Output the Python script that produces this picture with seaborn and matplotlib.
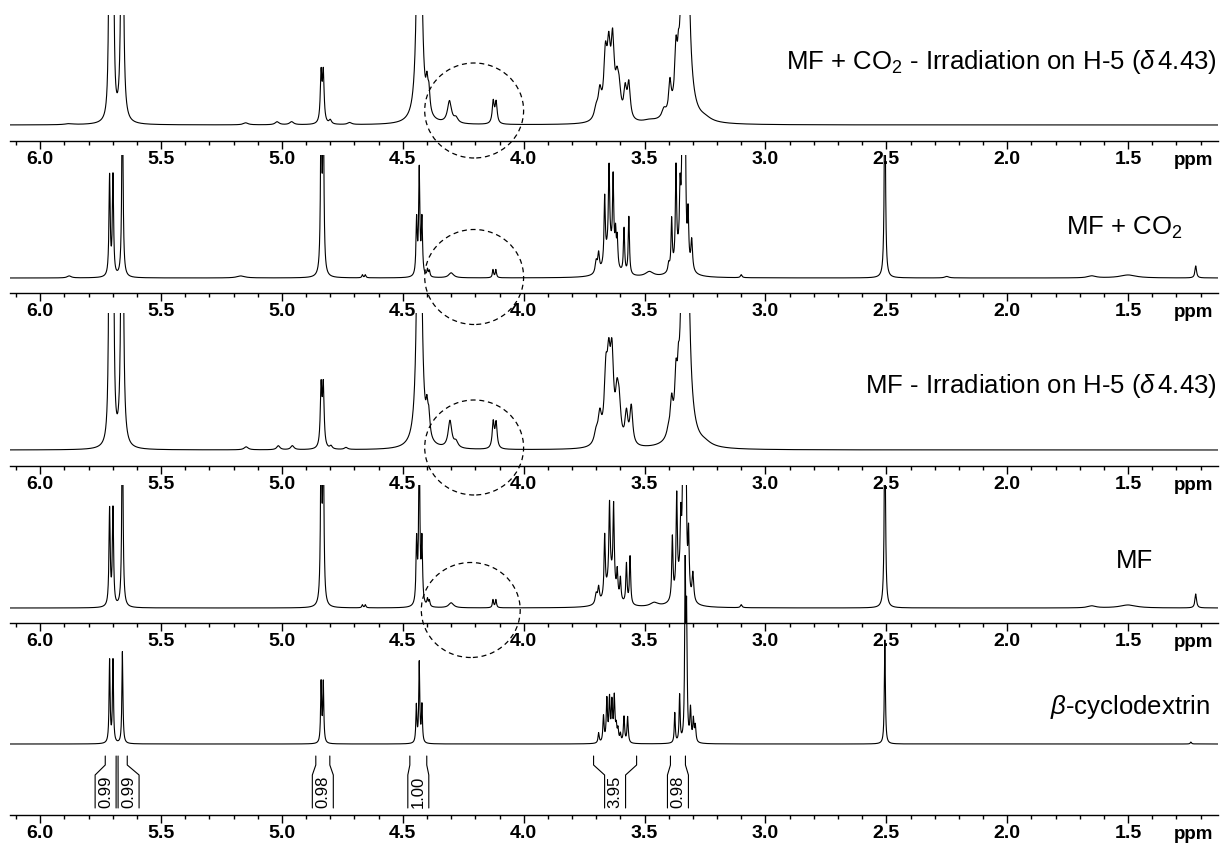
import numpy as np
import matplotlib
matplotlib.use('Agg')
import matplotlib.pyplot as plt
from matplotlib.patches import Ellipse
import seaborn as sns

# ---- axis / text data ----
ppm_left, ppm_right = 6.125, 1.128
major_ticks = [6.0, 5.5, 5.0, 4.5, 4.0, 3.5, 3.0, 2.5, 2.0, 1.5]
tick_labels = ['6.0', '5.5', '5.0', '4.5', '4.0', '3.5', '3.0', '2.5', '2.0', '1.5']
panel_labels = [r'MF + CO$_2$ - Irradiation on H-5 ($\delta\,$4.43)',
                r'MF + CO$_2$',
                r'MF - Irradiation on H-5 ($\delta\,$4.43)',
                r'MF',
                r'$\beta$-cyclodextrin']

# ---- peak lists (shift ppm, intensity, half width ppm) ----
# MF + CO2, irradiation on H-5
irr_co2_ppm = [5.88, 5.713, 5.699, 5.661, 5.15, 5.02, 4.96, 4.838, 4.829, 4.80, 4.72,
               4.432, 4.400, 4.392, 4.307, 4.28, 4.126, 4.114,
               3.70, 3.685, 3.662, 3.648, 3.632, 3.614, 3.605, 3.58, 3.565,
               3.48, 3.42, 3.395, 3.37, 3.36, 3.332, 3.25]
irr_co2_int = [1, 300, 300, 600, 2, 3, 3, 49, 49, 4, 2,
               700, 24, 20, 22, 5, 22, 21,
               11, 25, 58, 60, 72, 29, 23, 28, 35,
               2, 8, 30, 50, 20, 800, 3]
irr_co2_hw = [.02, .0035, .0035, .0035, .012, .01, .01, .004, .004, .006, .01,
              .006, .005, .005, .01, .01, .005, .005,
              .01, .008, .008, .008, .008, .008, .008, .007, .007,
              .03, .01, .006, .006, .004, .008, .03]

# MF + CO2
co2_ppm = [5.88, 5.713, 5.699, 5.660, 5.17, 4.838, 4.829, 4.667, 4.655,
           4.443, 4.432, 4.421, 4.398, 4.390, 4.30, 4.127, 4.115,
           3.70, 3.69, 3.665, 3.647, 3.63, 3.645, 3.62, 3.613, 3.585, 3.565,
           3.48, 3.40, 3.388, 3.37, 3.353, 3.343, 3.333, 3.35, 3.32, 3.305,
           3.10, 2.506, 2.25, 1.65, 1.50, 1.22]
co2_int = [2, 100, 100, 200, 2, 170, 170, 3, 3,
           55, 105, 55, 7, 6, 5, 8, 8,
           12, 18, 65, 80, 80, 30, 30, 28, 45, 58,
           5, 8, 50, 95, 55, 200, 200, 25, 50, 30,
           3, 200, 1.5, 2, 3, 12]
co2_hw = [.01, .003, .003, .003, .02, .003, .003, .003, .003,
          .003, .003, .003, .003, .003, .012, .003, .003,
          .005, .004, .003, .003, .003, .02, .003, .003, .003, .003,
          .02, .004, .003, .003, .003, .003, .003, .02, .003, .004,
          .004, .003, .01, .02, .04, .004]

# MF, irradiation on H-5
irr_mf_ppm = [5.713, 5.699, 5.661, 5.148, 5.015, 4.957, 4.838, 4.829, 4.797, 4.735,
              4.432, 4.400, 4.392, 4.305, 4.28, 4.126, 4.114,
              3.70, 3.685, 3.66, 3.648, 3.635, 3.614, 3.605, 3.575, 3.555,
              3.40, 3.388, 3.37, 3.36, 3.332, 3.25]
irr_mf_int = [350, 350, 650, 3, 4, 4, 60, 60, 3, 2,
              750, 24, 20, 27, 6, 26, 25,
              12, 26, 62, 66, 78, 40, 32, 30, 38,
              8, 30, 45, 25, 900, 3]
irr_mf_hw = [.0035, .0035, .0035, .01, .008, .008, .004, .004, .006, .008,
             .006, .005, .005, .009, .01, .005, .005,
             .01, .008, .008, .008, .008, .008, .008, .007, .007,
             .01, .006, .006, .004, .008, .03]

# MF
mf_ppm = [5.713, 5.699, 5.660, 4.838, 4.829, 4.667, 4.655,
          4.443, 4.432, 4.421, 4.398, 4.390, 4.30, 4.127, 4.115,
          3.70, 3.69, 3.665, 3.645, 3.628, 3.64, 3.613, 3.60, 3.575, 3.56,
          3.46, 3.385, 3.367, 3.35, 3.34, 3.33, 3.35, 3.318, 3.30,
          3.10, 2.506, 1.65, 1.50, 1.22]
mf_int = [97, 97, 200, 170, 170, 3, 3,
          62, 160, 62, 7, 6, 5, 8, 8,
          10, 15, 60, 75, 80, 30, 25, 22, 40, 48,
          4, 62, 95, 55, 200, 200, 25, 60, 28,
          3, 200, 2, 3, 14]
mf_hw = [.003, .003, .003, .003, .003, .003, .003,
         .003, .003, .003, .003, .003, .012, .003, .003,
         .005, .004, .003, .003, .003, .02, .003, .003, .003, .003,
         .02, .003, .003, .003, .003, .003, .02, .003, .004,
         .004, .003, .02, .04, .004]

# beta-cyclodextrin
cd_ppm = [5.713, 5.699, 5.660, 4.838, 4.829, 4.444, 4.432, 4.421,
          3.69, 3.67, 3.656, 3.645, 3.635, 3.625, 3.617, 3.61, 3.60, 3.585, 3.57,
          3.375, 3.355, 3.332, 3.326, 3.31, 3.298, 3.29, 2.506, 1.24]
cd_int = [83, 83, 92, 60, 60, 37, 80, 37,
          10, 26, 42, 42, 38, 44, 14, 12, 8, 26, 26,
          30, 47, 175, 120, 32, 22, 16, 104, 2]
cd_hw = [.0025] * 8 + [.003] * 11 + [.0025, .0025, .0025, .0025, .003, .003, .003, .0025, .003]

# integrals of the beta-cyclodextrin spectrum
integral_from = [5.731, 5.678, 4.860, 4.471, 3.711, 3.393]
integral_to = [5.686, 5.640, 4.802, 4.401, 3.533, 3.331]
integral_vals = ['0.99', '0.99', '0.98', '1.00', '3.95', '0.98']

panels = [(irr_co2_ppm, irr_co2_int, irr_co2_hw),
          (co2_ppm, co2_int, co2_hw),
          (irr_mf_ppm, irr_mf_int, irr_mf_hw),
          (mf_ppm, mf_int, mf_hw),
          (cd_ppm, cd_int, cd_hw)]

# ---- layout (pixels of a 1224x852 canvas) ----
W, H = 1224, 852
ax_x0, ax_x1 = 10, 1218
axis_y = [141, 293, 466, 623, 815]
top_y = [15, 155, 313, 485, 555]
base_off = [16, 15, 16, 15, 71]
label_pos = [(1217, 62, 'right'), (1183, 228, 'right'), (1217, 386, 'right'),
             (1135, 561, 'center'), (1210, 707, 'right')]
circle_pos = [(4.205, 14.5), (4.205, 1), (4.205, 2.5), (4.219, -2)]
px_per_ppm = 242.0


def spectrum(grid, pos, amp, hw):
    y = np.zeros_like(grid)
    for p, a, w in zip(pos, amp, hw):
        y += a / (1 + ((grid - p) / w) ** 2)
    return y


sns.set_theme(style='white')
plt.rcParams['font.family'] = ['Liberation Sans', 'DejaVu Sans']
plt.rcParams['mathtext.fontset'] = 'custom'
plt.rcParams['mathtext.rm'] = 'Liberation Sans'
plt.rcParams['mathtext.it'] = 'Liberation Sans:italic'
plt.rcParams['text.color'] = 'black'
plt.rcParams['xtick.color'] = 'black'
plt.rcParams['xtick.labelcolor'] = 'black'

fig = plt.figure(figsize=(W / 100, H / 100), dpi=100)
grid = np.arange(ppm_right, ppm_left, 0.0004)

for i, (pos, amp, hw) in enumerate(panels):
    bottom = 1 - axis_y[i] / H
    height = (axis_y[i] - top_y[i]) / H
    ax = fig.add_axes([ax_x0 / W, bottom, (ax_x1 - ax_x0) / W, height])
    ax.patch.set_visible(False)
    spec = spectrum(grid, pos, amp, hw)
    sns.lineplot(x=grid, y=spec, ax=ax, color='black', linewidth=0.8,
                 estimator=None, sort=False)
    ax.set_xlim(ppm_left, ppm_right)
    ax.set_ylim(-base_off[i], axis_y[i] - top_y[i] - base_off[i])
    ax.set_xticks(major_ticks)
    ax.set_xticklabels(tick_labels, fontweight='bold', fontsize=14)
    ax.set_xticks(np.arange(1.2, 6.15, 0.1), minor=True)
    ax.tick_params(axis='x', which='major', direction='out', length=6, width=1,
                   pad=1, bottom=True, colors='black')
    ax.tick_params(axis='x', which='minor', direction='out', length=3, width=1,
                   bottom=True, colors='black')
    ax.set_yticks([])
    ax.set_xlabel('')
    ax.set_ylabel('')
    for side in ['top', 'left', 'right']:
        ax.spines[side].set_visible(False)
    ax.spines['bottom'].set_color('black')
    ax.spines['bottom'].set_linewidth(1)
    ax.annotate('ppm', xy=(1, 0), xycoords='axes fraction', xytext=(-24, -11),
                textcoords='offset pixels', ha='center', va='top',
                fontweight='bold', fontsize=13.5, color='black')

    lx, ly, ha = label_pos[i]
    fig.text(lx / W, 1 - ly / H, panel_labels[i], ha=ha, va='center', fontsize=18.5,
             color='black')

    if i < 4:
        cx, cy = circle_pos[i]
        ax.add_patch(Ellipse((cx, cy), width=99 / px_per_ppm, height=95, fill=False,
                             linestyle=(0, (4, 3)), linewidth=0.9, color='black',
                             clip_on=False))

    if i == 4:
        # integral brackets
        half = 10.5 / px_per_ppm
        gap = 2 / px_per_ppm
        boxes = [[(a + b) / 2 + half, (a + b) / 2 - half]
                 for a, b in zip(integral_from, integral_to)]
        for k in range(len(boxes) - 1):
            if boxes[k][1] < boxes[k + 1][0] + gap:
                mid = (integral_to[k] + integral_from[k + 1]) / 2
                boxes[k] = [mid + gap / 2 + 2 * half, mid + gap / 2]
                boxes[k + 1] = [mid - gap / 2, mid - gap / 2 - 2 * half]
        for a, b, (bh, bl), val in zip(integral_from, integral_to, boxes, integral_vals):
            for xe, xb in [(a, bh), (b, bl)]:
                ax.plot([xe, xe, xb, xb], [-12, -21, -31, -64], color='black',
                        linewidth=0.8, clip_on=False)
            ax.text((bh + bl) / 2, -47.5, val, rotation=90, ha='center', va='center',
                    fontsize=12, color='black')

fig.savefig('out.png', dpi=100)
